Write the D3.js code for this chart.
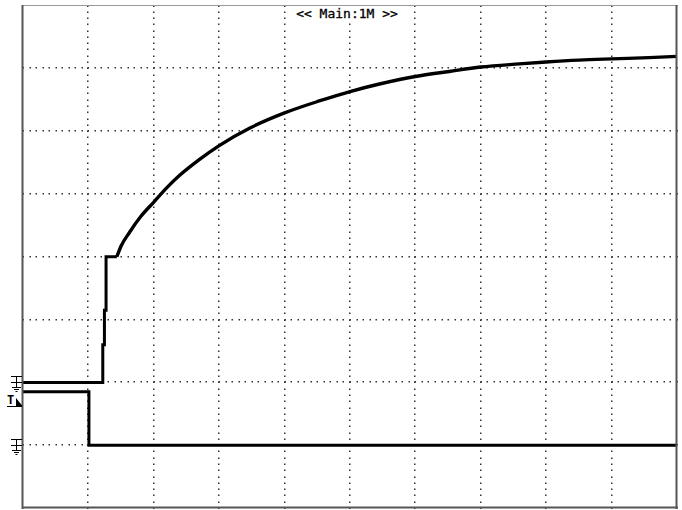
<!DOCTYPE html>
<html><head><meta charset="utf-8">
<script src="https://cdn.jsdelivr.net/npm/d3@7"></script>
<style>html,body{margin:0;padding:0;background:#fff;}svg{display:block;}</style>
</head><body>
<svg id="c" width="682" height="510"></svg>
<script>
// Data in screen divisions (x: 0..10 div, y: -4..4 div)
const title = "<< Main:1M >>";
const xDivs = [0,1,2,3,4,5,6,7,8,9,10];
const yDivs = [-4,-3,-2,-1,0,1,2,3,4];
// ch1: step part then exponential-like rise
const ch1StepX = [0,1.22,1.22,1.245,1.245,1.27,1.27,1.29,1.435];
const ch1StepY = [-2,-2,-1.4,-1.4,-0.85,-0.85,0,0,0];
const ch1CurveX = [1.435,1.5,1.63,1.8,2.0,2.2,2.4,2.7,3.0,3.47,4.0,4.53,5.0,5.45,6.0,6.52,7.0,7.59,8.0,8.5,9.0,9.57,10];
const ch1CurveY = [0,0.17,0.39,0.64,0.87,1.1,1.30,1.55,1.77,2.05,2.29,2.48,2.63,2.75,2.87,2.95,3.02,3.07,3.10,3.13,3.15,3.17,3.19];
const ch2X = [0,1.008,1.008,10];
const ch2Y = [-2.15,-2.15,-3,-3];
const groundMarks = [-2,-3];
const trigLevel = -2.3;

const svg = d3.select("#c");
const x = d3.scaleLinear().domain([0,10]).range([23,677]);
const y = d3.scaleLinear().domain([-4,4]).range([508,5.5]);

svg.append("rect").attr("x",23).attr("y",5.5).attr("width",654).attr("height",502.5).attr("fill","#fff");

// dotted grid
const g = svg.append("g").attr("fill","#333");
const minorX = d3.range(0,101).map(i=>i/10);
const minorY = d3.range(0,81).map(i=>-4+i/10);
xDivs.slice(1,-1).forEach(d=>{
  minorY.forEach(m=>{
    g.append("rect").attr("x",Math.round(x(d))-1).attr("y",Math.round(y(m))-0.5).attr("width",1.5).attr("height",1.5);
  });
});
yDivs.slice(1,-1).forEach(d=>{
  minorX.forEach(m=>{
    g.append("rect").attr("x",Math.round(x(m))-0.5).attr("y",Math.round(y(d))-1).attr("width",1.5).attr("height",1.5);
  });
});

// title
const tg = svg.append("g");
const tt = tg.append("text").attr("x",347).attr("y",18).attr("text-anchor","middle")
  .attr("font-family","DejaVu Sans Mono").attr("font-size",13).attr("fill","#000").attr("stroke","#000").attr("stroke-width",0.3).text(title);
const bb = tt.node().getBBox();
tg.insert("rect","text").attr("x",bb.x-2).attr("y",bb.y).attr("width",bb.width+4).attr("height",bb.height).attr("fill","#fff");

// traces
svg.append("clipPath").attr("id","cl").append("rect").attr("x",23).attr("y",5.5).attr("width",654).attr("height",502.5);
const line = d3.line().x(d=>x(d[0])).y(d=>y(d[1]));
const smooth = d3.line().x(d=>x(d[0])).y(d=>y(d[1])).curve(d3.curveMonotoneX);
const tr = svg.append("g").attr("fill","none").attr("stroke","#000").attr("stroke-width",3).attr("clip-path","url(#cl)");
tr.append("path").attr("d",line(ch2X.map((v,i)=>[v,ch2Y[i]])));
tr.append("path").attr("d",line(ch1StepX.map((v,i)=>[v,ch1StepY[i]])));
tr.append("path").attr("d",smooth(ch1CurveX.map((v,i)=>[v,ch1CurveY[i]]))).attr("stroke-width",3.4);

// border (bevel)
svg.append("line").attr("x1",22).attr("x2",678).attr("y1",5.5).attr("y2",5.5).attr("stroke","#999").attr("stroke-width",1);
svg.append("line").attr("x1",22.5).attr("x2",22.5).attr("y1",5).attr("y2",509).attr("stroke","#555").attr("stroke-width",2);
svg.append("line").attr("x1",676.5).attr("x2",676.5).attr("y1",5).attr("y2",509).attr("stroke","#555").attr("stroke-width",2);
svg.append("line").attr("x1",22).attr("x2",678).attr("y1",507.5).attr("y2",507.5).attr("stroke","#555").attr("stroke-width",2);

// ground markers
const gm = svg.append("g").attr("stroke","#000").attr("stroke-width",1).attr("fill","none");
groundMarks.forEach(v=>{
  const yy = Math.round(y(v))+0.5;
  gm.append("line").attr("x1",11).attr("x2",22).attr("y1",yy-6).attr("y2",yy-6);
  gm.append("line").attr("x1",16.5).attr("x2",16.5).attr("y1",yy-6).attr("y2",yy+5);
  gm.append("line").attr("x1",11).attr("x2",22).attr("y1",yy).attr("y2",yy);
  gm.append("line").attr("x1",12).attr("x2",21).attr("y1",yy+5).attr("y2",yy+5);
  gm.append("line").attr("x1",14).attr("x2",19).attr("y1",yy+7).attr("y2",yy+7);
  gm.append("line").attr("x1",15.5).attr("x2",17.5).attr("y1",yy+9).attr("y2",yy+9);
});
// trigger marker
const ty = Math.round(y(trigLevel));
svg.append("text").attr("x",7).attr("y",ty+3).attr("font-family","DejaVu Sans Mono").attr("font-weight","bold").attr("font-size",12).attr("fill","#000").text("T");
svg.append("line").attr("x1",7).attr("x2",22).attr("y1",ty+5.5).attr("y2",ty+5.5).attr("stroke","#000");
svg.append("path").attr("d",`M16,${ty-3}L22.5,${ty+5}L16,${ty+5}Z`).attr("fill","#000");
</script>
</body></html>
